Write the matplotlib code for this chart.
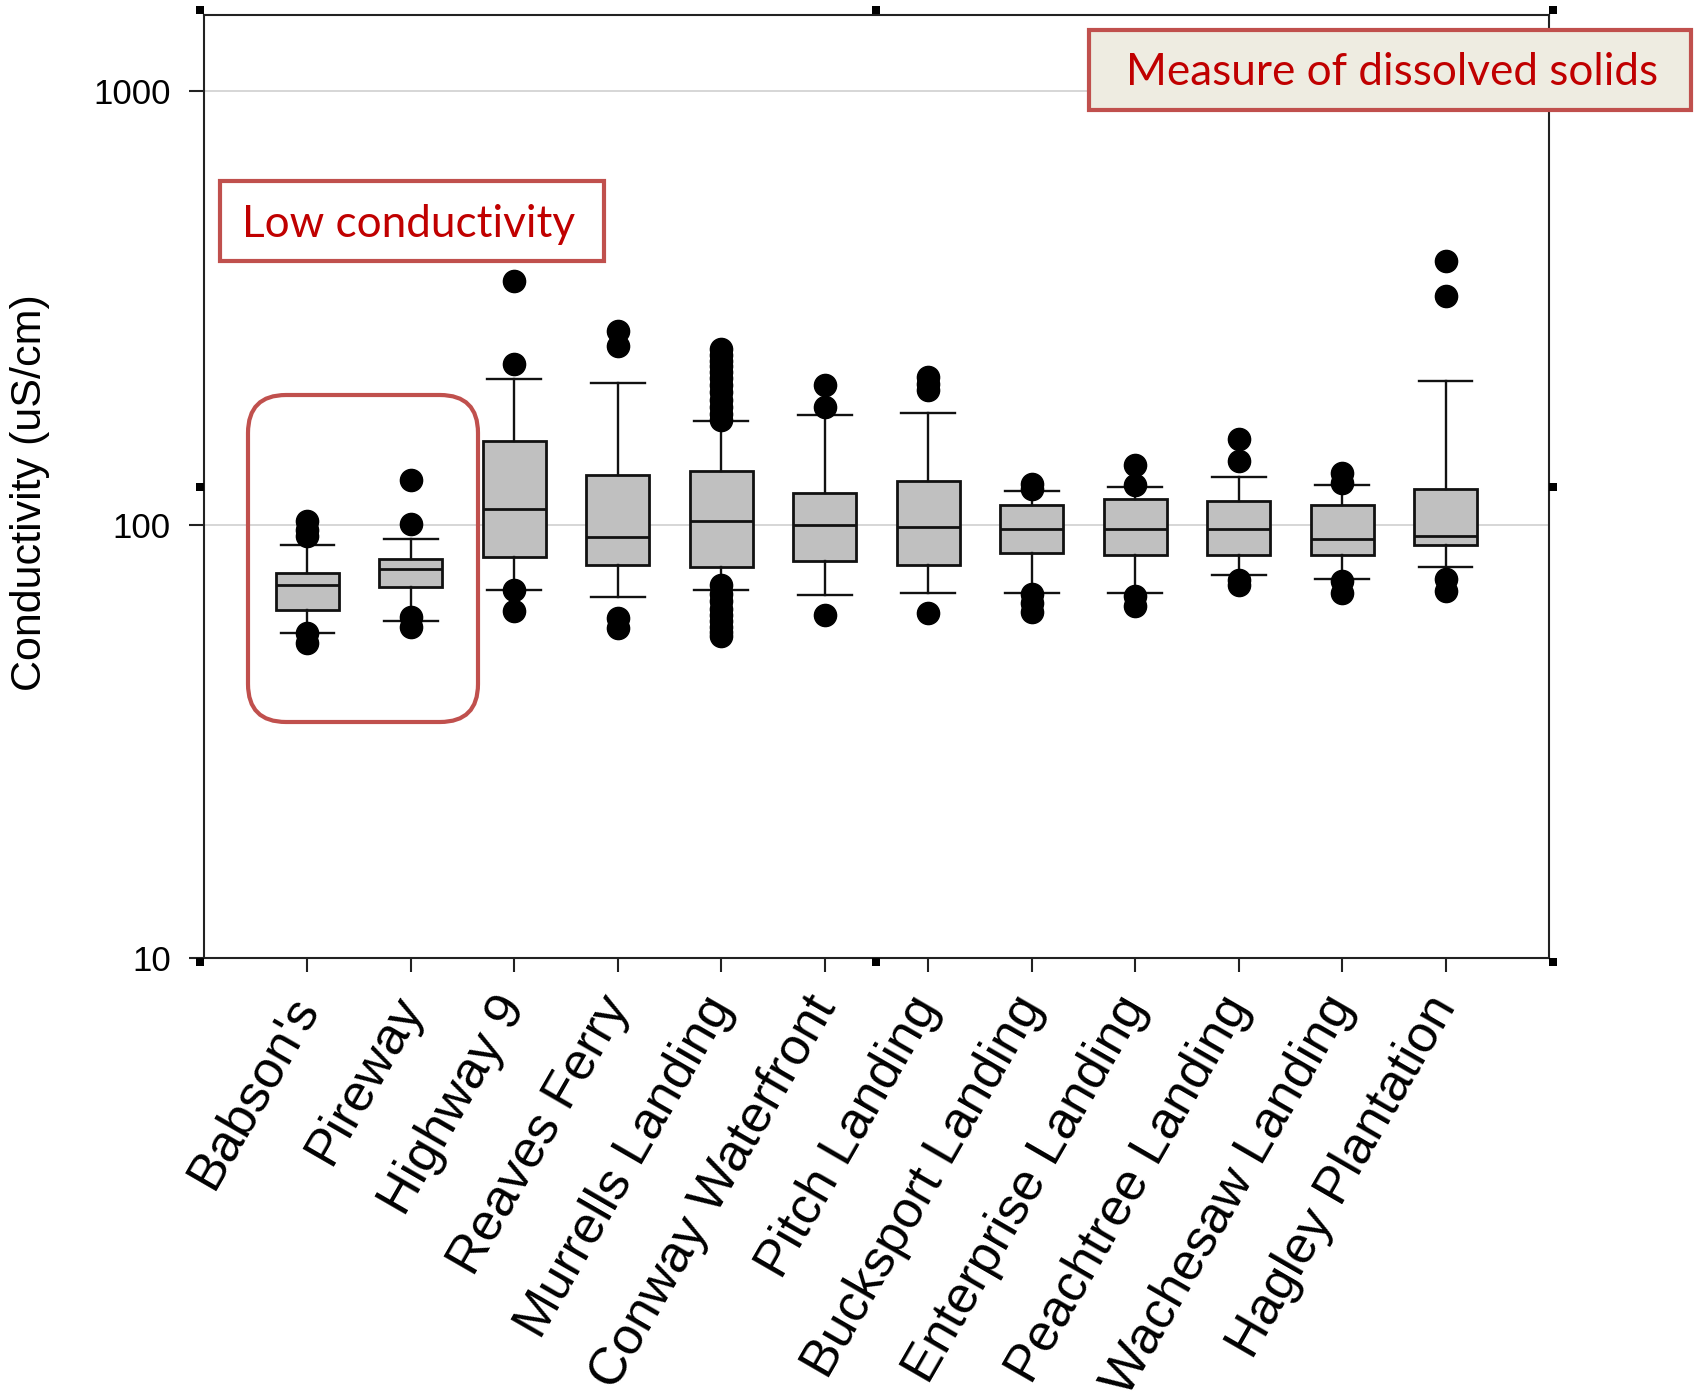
import matplotlib
matplotlib.use('Agg')
import matplotlib.pyplot as plt
from matplotlib.patches import FancyBboxPatch, Rectangle
from matplotlib.transforms import IdentityTransform, ScaledTranslation

sites = ["Babson's", "Pireway", "Highway 9", "Reaves Ferry", "Murrells Landing",
         "Conway Waterfront", "Pitch Landing", "Bucksport Landing",
         "Enterprise Landing", "Peachtree Landing", "Wachesaw Landing",
         "Hagley Plantation"]

# box statistics (uS/cm)
whislo = [56.3, 60.0, 70.5, 68.1, 70.5, 68.8, 69.6, 69.6, 69.6, 76.6, 75.0, 79.9]
q1 = [63.4, 71.8, 84.2, 80.7, 79.9, 82.6, 80.7, 86.1, 85.0, 85.3, 85.3, 89.8]
med = [72.5, 79.1, 108.7, 93.7, 102.1, 100.0, 98.8, 97.7, 97.7, 97.7, 92.7, 94.0]
q3 = [77.4, 83.4, 156.0, 130.0, 132.7, 118.3, 125.8, 111.0, 114.4, 113.2, 111.0, 121.0]
whishi = [89.9, 92.7, 217.0, 212.0, 173.9, 179.3, 180.9, 119.6, 122.4, 128.8, 123.5, 214.7]
fliers = [
    [101.8, 97.4, 94.0, 56.3, 53.4],
    [127.0, 100.5, 61.1, 57.9],
    [365.0, 235.0, 70.8, 63.2],
    [280.0, 258.0, 61.0, 57.7],
    [254.0, 246.0, 239.0, 232.0, 225.0, 218.0, 210.0, 202.0, 194.0, 187.0,
     180.0, 174.0, 72.5, 69.0, 66.5, 64.0, 62.0, 60.0, 58.0, 56.5, 55.3],
    [210.2, 187.3, 61.8],
    [219.6, 211.0, 204.7, 62.4],
    [124.0, 121.0, 69.0, 66.0, 63.0],
    [137.5, 123.7, 68.5, 65.0],
    [157.6, 139.9, 74.7, 72.7],
    [131.6, 124.8, 74.0, 69.6],
    [406.0, 337.0, 75.0, 70.2],
]
yticks = [10, 100, 1000]
ytick_labels = ["10", "100", "1000"]

W, H = 1695, 1397
fig = plt.figure(figsize=(W / 100, H / 100), dpi=100)
ax = fig.add_axes([204 / W, 1 - 958 / H, (1549 - 204) / W, (958 - 15) / H])

stats = []
for i in range(len(sites)):
    stats.append(dict(whislo=whislo[i], q1=q1[i], med=med[i], q3=q3[i],
                      whishi=whishi[i], fliers=fliers[i]))

pos = list(range(1, len(sites) + 1))
ax.bxp(stats, positions=pos, widths=0.61, capwidths=0.52, patch_artist=True,
       manage_ticks=False,
       boxprops=dict(facecolor='#c0c0c0', edgecolor='#111111', linewidth=2.0),
       medianprops=dict(color='#111111', linewidth=2.0),
       whiskerprops=dict(color='#111111', linewidth=1.7),
       capprops=dict(color='#111111', linewidth=1.7),
       flierprops=dict(marker='o', markerfacecolor='black',
                       markeredgecolor='black', markersize=16))

ax.set_yscale('log')
ax.set_ylim(10, 1500)
ax.set_xlim(0, 13)
ax.set_yticks(yticks)
ax.set_yticklabels(ytick_labels)
ax.minorticks_off()
ax.set_xticks(pos)
ax.set_xticklabels(sites, rotation=60, ha='right', va='center',
                   rotation_mode='anchor', fontsize=37.5,
                   family='Liberation Sans')
# nudge the slanted labels a little to the right
shift = ScaledTranslation(0.08, -0.02, fig.dpi_scale_trans)
for lab in ax.get_xticklabels():
    lab.set_transform(lab.get_transform() + shift)
for lab in ax.get_yticklabels():
    lab.set_family('Liberation Sans')
    lab.set_fontsize(25)

ax.yaxis.grid(True, color='#cfcfcf', linewidth=1.2)
ax.set_axisbelow(True)
for s in ax.spines.values():
    s.set_color('#222222')
    s.set_linewidth(1.5)
ax.tick_params(axis='y', which='major', direction='out', length=11,
               width=1.5, pad=13, color='#222222')
ax.tick_params(axis='x', which='major', direction='out', length=10,
               width=1.5, pad=20, color='#222222')

fig.text(30 / W, 1 - 493 / H, "Conductivity (uS/cm)", rotation=90,
         ha='center', va='center', fontsize=31, family='Liberation Sans')

# annotations, placed in pixel coordinates (y measured from the top)
def px(x, y):
    return x, H - y

red_edge = '#c0504d'
red_text = '#c00000'

x0, y0 = px(220, 261)
fig.add_artist(Rectangle((x0, y0), 604 - 220, 261 - 181,
                         transform=IdentityTransform(), facecolor='white',
                         edgecolor=red_edge, linewidth=3, zorder=5))
fig.text(242 / W, 1 - 237 / H, "Low conductivity", color=red_text,
         fontsize=31.8, family='Lato', ha='left', va='baseline', zorder=6)

x0, y0 = px(1089, 110)
fig.add_artist(Rectangle((x0, y0), 1691 - 1089, 110 - 30,
                         transform=IdentityTransform(), facecolor='#eeece1',
                         edgecolor=red_edge, linewidth=3, zorder=5))
fig.text(1392 / W, 1 - 85 / H, "Measure of dissolved solids", color=red_text,
         fontsize=31.8, family='Lato', ha='center', va='baseline', zorder=6)

x0, y0 = px(248, 722)
fig.add_artist(FancyBboxPatch((x0, y0), 478 - 248, 722 - 395,
                              boxstyle='round,pad=0,rounding_size=38',
                              transform=IdentityTransform(),
                              facecolor='none', edgecolor=red_edge,
                              linewidth=3, zorder=5))

# small frame handles around the plot area
for hx, hy in [(200, 10), (876, 10), (1553, 10), (200, 487), (1553, 487),
               (200, 962), (876, 962), (1553, 962)]:
    x0, y0 = px(hx - 4, hy + 4)
    fig.add_artist(Rectangle((x0, y0), 8, 8, transform=IdentityTransform(),
                             facecolor='black', edgecolor='none', zorder=7))

fig.savefig("out.png", dpi=100)
